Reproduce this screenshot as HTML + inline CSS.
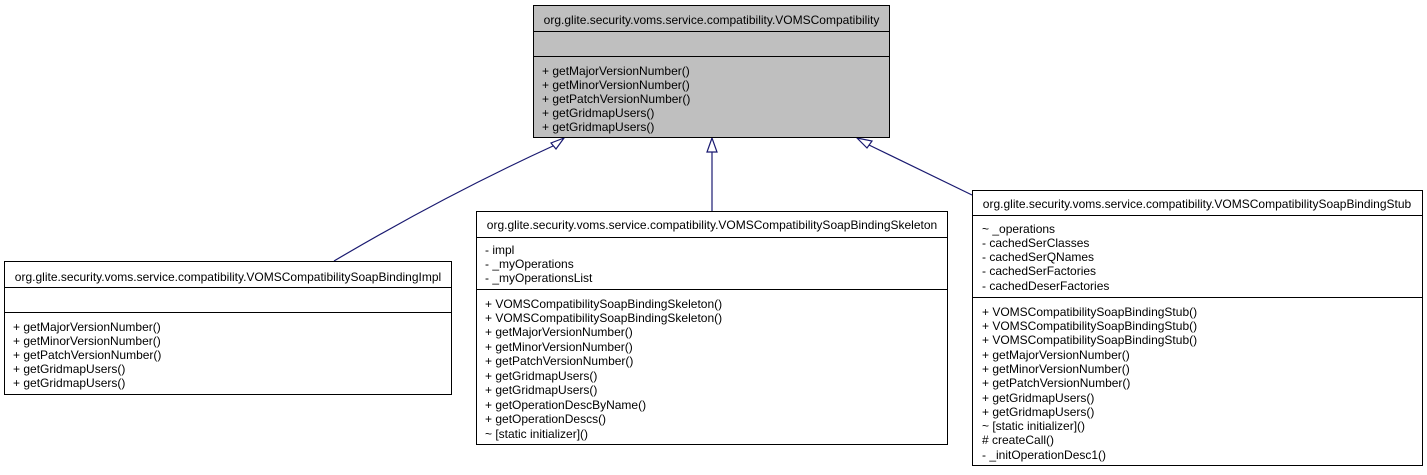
<!DOCTYPE html>
<html><head><meta charset="utf-8"><style>
html,body{margin:0;padding:0;background:#fff;}
svg{display:block;}
text{font-family:"Liberation Sans",Arial,sans-serif;font-size:12px;fill:#000;}
</style></head><body>
<svg width="1427" height="475" viewBox="0 0 1427 475" xmlns="http://www.w3.org/2000/svg">
<g stroke="#191970" stroke-width="1.2" fill="none">
<path d="M334,261 C400,222 470,184 553,146"/>
<line x1="712" y1="211" x2="712" y2="152"/>
<line x1="972" y1="195" x2="869" y2="145"/>
</g>
<g stroke="#191970" stroke-width="1.2" fill="#fff">
<polygon points="564,138 551,143 556,149"/>
<polygon points="712,138 707,152 717,152"/>
<polygon points="857,138 872,141 867,148"/>
</g>
<rect x="533.5" y="5.5" width="356" height="132" fill="#bfbfbf" stroke="#000"/>
<line x1="533.5" y1="31.5" x2="889.5" y2="31.5" stroke="#000"/>
<line x1="533.5" y1="56.5" x2="889.5" y2="56.5" stroke="#000"/>
<text x="711.5" y="24" text-anchor="middle">org.glite.security.voms.service.compatibility.VOMSCompatibility</text>
<text x="542" y="75">+ getMajorVersionNumber()</text>
<text x="542" y="89">+ getMinorVersionNumber()</text>
<text x="542" y="103">+ getPatchVersionNumber()</text>
<text x="542" y="117">+ getGridmapUsers()</text>
<text x="542" y="131">+ getGridmapUsers()</text>
<rect x="4.5" y="261.5" width="447" height="133" fill="#fff" stroke="#000"/>
<line x1="4.5" y1="287.5" x2="451.5" y2="287.5" stroke="#000"/>
<line x1="4.5" y1="312.5" x2="451.5" y2="312.5" stroke="#000"/>
<text x="228" y="281" text-anchor="middle">org.glite.security.voms.service.compatibility.VOMSCompatibilitySoapBindingImpl</text>
<text x="13" y="331">+ getMajorVersionNumber()</text>
<text x="13" y="345">+ getMinorVersionNumber()</text>
<text x="13" y="359">+ getPatchVersionNumber()</text>
<text x="13" y="373">+ getGridmapUsers()</text>
<text x="13" y="387">+ getGridmapUsers()</text>
<rect x="476.5" y="211.5" width="471" height="233" fill="#fff" stroke="#000"/>
<line x1="476.5" y1="237.5" x2="947.5" y2="237.5" stroke="#000"/>
<line x1="476.5" y1="289.5" x2="947.5" y2="289.5" stroke="#000"/>
<text x="712" y="229" text-anchor="middle">org.glite.security.voms.service.compatibility.VOMSCompatibilitySoapBindingSkeleton</text>
<text x="485" y="254">- impl</text>
<text x="485" y="268">- _myOperations</text>
<text x="485" y="282">- _myOperationsList</text>
<text x="485" y="308">+ VOMSCompatibilitySoapBindingSkeleton()</text>
<text x="485" y="322">+ VOMSCompatibilitySoapBindingSkeleton()</text>
<text x="485" y="336">+ getMajorVersionNumber()</text>
<text x="485" y="351">+ getMinorVersionNumber()</text>
<text x="485" y="365">+ getPatchVersionNumber()</text>
<text x="485" y="380">+ getGridmapUsers()</text>
<text x="485" y="394">+ getGridmapUsers()</text>
<text x="485" y="409">+ getOperationDescByName()</text>
<text x="485" y="423">+ getOperationDescs()</text>
<text x="485" y="438">~ [static initializer]()</text>
<rect x="972.5" y="190.5" width="450" height="275" fill="#fff" stroke="#000"/>
<line x1="972.5" y1="215.5" x2="1422.5" y2="215.5" stroke="#000"/>
<line x1="972.5" y1="297.5" x2="1422.5" y2="297.5" stroke="#000"/>
<text x="1197" y="208" text-anchor="middle">org.glite.security.voms.service.compatibility.VOMSCompatibilitySoapBindingStub</text>
<text x="982" y="233">~ _operations</text>
<text x="982" y="247">- cachedSerClasses</text>
<text x="982" y="261">- cachedSerQNames</text>
<text x="982" y="275">- cachedSerFactories</text>
<text x="982" y="290">- cachedDeserFactories</text>
<text x="982" y="316">+ VOMSCompatibilitySoapBindingStub()</text>
<text x="982" y="330">+ VOMSCompatibilitySoapBindingStub()</text>
<text x="982" y="344">+ VOMSCompatibilitySoapBindingStub()</text>
<text x="982" y="359">+ getMajorVersionNumber()</text>
<text x="982" y="373">+ getMinorVersionNumber()</text>
<text x="982" y="387">+ getPatchVersionNumber()</text>
<text x="982" y="402">+ getGridmapUsers()</text>
<text x="982" y="416">+ getGridmapUsers()</text>
<text x="982" y="430">~ [static initializer]()</text>
<text x="982" y="444"># createCall()</text>
<text x="982" y="459">- _initOperationDesc1()</text>
</svg>
</body></html>
